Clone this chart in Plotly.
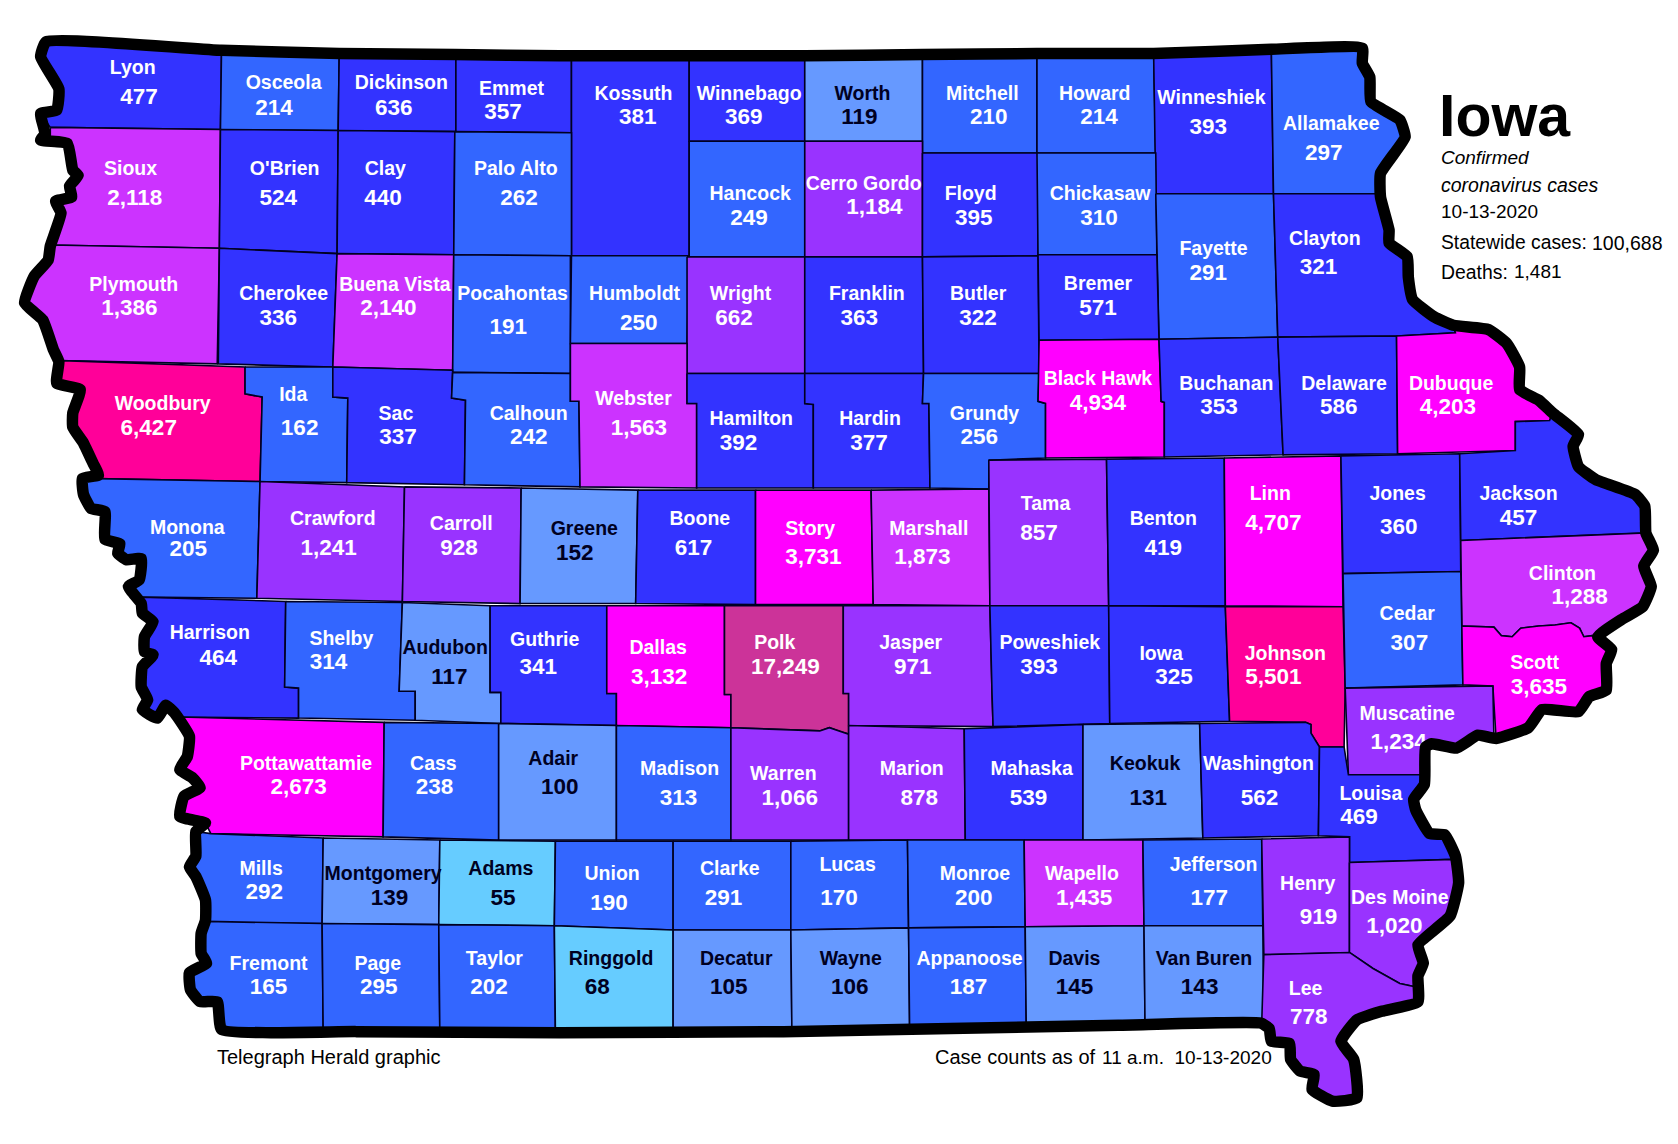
import plotly.graph_objects as go

# all positions are in the map's own units: 1568 wide, 1069 tall, y pointing down
MAP_WIDTH = 1568
MAP_HEIGHT = 1069

# "Des Moine" on purpose: the state border cuts the last letter off in the graphic
COUNTIES = [
    "Lyon", "Osceola", "Dickinson", "Emmet", "Kossuth", "Winnebago", "Worth", "Mitchell", "Howard", "Winneshiek", "Allamakee",
    "Sioux", "O'Brien", "Clay", "Palo Alto", "Hancock", "Cerro Gordo", "Floyd", "Chickasaw", "Fayette", "Clayton",
    "Plymouth", "Cherokee", "Buena Vista", "Pocahontas", "Humboldt", "Wright", "Franklin", "Butler", "Bremer",
    "Woodbury", "Ida", "Sac", "Calhoun", "Webster", "Hamilton", "Hardin", "Grundy", "Black Hawk", "Buchanan", "Delaware", "Dubuque",
    "Monona", "Crawford", "Carroll", "Greene", "Boone", "Story", "Marshall", "Tama", "Benton", "Linn", "Jones", "Jackson", "Clinton",
    "Harrison", "Shelby", "Audubon", "Guthrie", "Dallas", "Polk", "Jasper", "Poweshiek", "Iowa", "Johnson", "Cedar", "Scott", "Muscatine",
    "Pottawattamie", "Cass", "Adair", "Madison", "Warren", "Marion", "Mahaska", "Keokuk", "Washington", "Louisa",
    "Mills", "Montgomery", "Adams", "Union", "Clarke", "Lucas", "Monroe", "Wapello", "Jefferson", "Henry", "Des Moine",
    "Fremont", "Page", "Taylor", "Ringgold", "Decatur", "Wayne", "Appanoose", "Davis", "Van Buren", "Lee",
]

CASES = [
    477, 214, 636, 357, 381, 369, 119, 210, 214, 393, 297,
    2118, 524, 440, 262, 249, 1184, 395, 310, 291, 321,
    1386, 336, 2140, 191, 250, 662, 363, 322, 571,
    6427, 162, 337, 242, 1563, 392, 377, 256, 4934, 353, 586, 4203,
    205, 1241, 928, 152, 617, 3731, 1873, 857, 419, 4707, 360, 457, 1288,
    464, 314, 117, 341, 3132, 17249, 971, 393, 325, 5501, 307, 3635, 1234,
    2673, 238, 100, 313, 1066, 878, 539, 131, 562, 469,
    292, 139, 55, 190, 291, 170, 200, 1435, 177, 919, 1020,
    165, 295, 202, 68, 105, 106, 187, 145, 143, 778,
]

NAME_X = [
    124, 265, 375, 478, 592, 700, 806, 918, 1023, 1132, 1244,
    122, 266, 360, 482, 701, 807, 907, 1028, 1134, 1238,
    125, 265, 369, 479, 593, 692, 810, 914, 1026,
    152, 274, 370, 494, 592, 702, 813, 920, 1026, 1146, 1256, 1356,
    175, 311, 431, 546, 654, 757, 868, 977, 1087, 1187, 1306, 1419, 1460,
    196, 319, 416, 509, 615, 724, 851, 981, 1085, 1201, 1315, 1434, 1315,
    286, 405, 517, 635, 732, 852, 964, 1070, 1176, 1281,
    244, 358, 468, 572, 682, 792, 911, 1011, 1134, 1222, 1308,
    251, 353, 462, 571, 688, 795, 906, 1004, 1125, 1220,
]
NAME_Y = [
    65, 79, 79, 84, 89, 89, 89, 89, 89, 93, 117,
    159, 159, 159, 159, 182, 173, 182, 182, 234, 224,
    267, 276, 267, 276, 276, 276, 276, 276, 266,
    379, 370, 388, 388, 374, 393, 393, 388, 355, 360, 360, 360,
    494, 486, 491, 495, 486, 495, 495, 472, 486, 463, 463, 463, 537,
    593, 598, 607, 599, 607, 602, 602, 602, 612, 612, 575, 621, 668,
    715, 715, 710, 720, 724, 720, 720, 715, 715, 743,
    813, 818, 813, 818, 813, 809, 818, 818, 809, 827, 840,
    902, 902, 897, 897, 897, 897, 897, 897, 897, 925,
]
VALUE_X = [
    130, 256, 368, 470, 596, 695, 803, 924, 1027, 1129, 1237,
    126, 260, 358, 485, 700, 817, 910, 1027, 1129, 1232,
    121, 260, 363, 475, 597, 686, 803, 914, 1026,
    139, 280, 372, 494, 597, 690, 812, 915, 1026, 1139, 1251, 1353,
    176, 307, 429, 537, 648, 760, 862, 971, 1087, 1190, 1307, 1419, 1476,
    204, 307, 420, 503, 616, 734, 853, 971, 1097, 1190, 1317, 1438, 1307,
    279, 406, 523, 634, 738, 859, 961, 1073, 1177, 1270,
    247, 364, 470, 569, 676, 784, 910, 1013, 1130, 1232, 1303,
    251, 354, 457, 558, 681, 794, 905, 1004, 1121, 1223,
]
VALUE_Y = [
    92, 102, 102, 106, 111, 111, 111, 111, 111, 120, 144,
    186, 186, 186, 186, 205, 195, 205, 205, 256, 251,
    289, 298, 289, 307, 303, 298, 298, 298, 289,
    401, 401, 410, 410, 401, 415, 415, 410, 378, 382, 382, 382,
    514, 513, 513, 518, 513, 522, 522, 499, 513, 490, 494, 485, 559,
    616, 620, 634, 625, 634, 625, 625, 625, 634, 634, 602, 643, 695,
    737, 737, 737, 747, 747, 747, 747, 747, 747, 765,
    835, 840, 840, 845, 840, 840, 840, 840, 840, 858, 867,
    924, 924, 924, 924, 924, 924, 924, 924, 924, 952,
]

# county outlines, same order as COUNTIES
COUNTY_OUTLINES = [
    [(43, 39), (207, 47), (206, 121), (47, 119), (38, 106), (53, 103), (55, 83), (38, 53)],
    [(207, 47), (317, 50), (316, 122), (206, 121)],
    [(317, 50), (426, 51), (426, 123), (316, 122)],
    [(426, 51), (534, 52), (534, 124), (426, 123)],
    [(534, 52), (644, 52), (644, 239), (534, 239)],
    [(644, 52), (752, 52), (752, 132), (644, 132)],
    [(752, 52), (862, 51), (862, 132), (752, 132)],
    [(862, 51), (969, 50), (969, 143), (862, 143)],
    [(969, 50), (1078, 50), (1080, 143), (969, 143)],
    [(1078, 50), (1188, 46), (1190, 181), (1080, 181)],
    [(1188, 46), (1273, 45), (1273, 59), (1280, 72), (1281, 95), (1308, 112), (1313, 128), (1290, 162), (1290, 181), (1190, 181)],
    [(47, 119), (206, 121), (205, 232), (47, 229), (57, 199), (52, 188), (67, 184), (65, 174), (73, 164), (68, 159), (63, 134), (47, 131)],
    [(206, 121), (316, 122), (315, 237), (205, 232)],
    [(316, 122), (425, 123), (424, 238), (315, 237)],
    [(425, 123), (534, 124), (534, 239), (424, 238)],
    [(644, 132), (752, 132), (752, 240), (644, 240)],
    [(752, 132), (862, 132), (862, 240), (752, 240)],
    [(862, 143), (970, 143), (970, 239), (862, 240)],
    [(969, 143), (1080, 143), (1081, 238), (970, 239)],
    [(1080, 181), (1190, 181), (1194, 315), (1083, 317)],
    [(1190, 181), (1290, 181), (1290, 184), (1298, 215), (1298, 227), (1315, 240), (1316, 259), (1320, 280), (1340, 296), (1358, 304), (1360, 311), (1305, 314), (1194, 315)],
    [(47, 229), (205, 232), (203, 340), (58, 337), (50, 327), (40, 299), (23, 283), (32, 258), (45, 243)],
    [(205, 232), (315, 237), (311, 343), (204, 340)],
    [(315, 237), (424, 238), (423, 346), (311, 343)],
    [(424, 238), (533, 239), (533, 375), (541, 375), (541, 349), (423, 348)],
    [(534, 239), (644, 239), (642, 321), (533, 321)],
    [(642, 240), (752, 240), (752, 349), (642, 349)],
    [(752, 240), (862, 240), (863, 349), (752, 349)],
    [(862, 240), (970, 239), (971, 349), (863, 349)],
    [(970, 238), (1081, 238), (1083, 317), (971, 318)],
    [(58, 337), (229, 343), (229, 368), (245, 371), (243, 450), (77, 447), (92, 444), (87, 433), (78, 414), (68, 399), (68, 386), (75, 364), (53, 358), (55, 338)],
    [(229, 343), (311, 343), (311, 371), (325, 372), (324, 451), (243, 450), (245, 371), (229, 368)],
    [(311, 343), (423, 346), (422, 372), (435, 374), (434, 453), (324, 451), (325, 372), (311, 371)],
    [(423, 348), (533, 349), (533, 375), (541, 375), (542, 455), (434, 453), (435, 374), (422, 372)],
    [(533, 321), (642, 321), (642, 377), (651, 377), (651, 456), (542, 455), (541, 375), (533, 375)],
    [(642, 349), (752, 349), (752, 377), (760, 378), (760, 456), (651, 456), (651, 377), (642, 377)],
    [(752, 349), (863, 349), (862, 377), (868, 377), (869, 456), (760, 456), (760, 378), (752, 377)],
    [(863, 349), (971, 349), (970, 375), (977, 377), (977, 428), (924, 430), (924, 457), (869, 456), (868, 377), (862, 377)],
    [(971, 318), (1083, 317), (1085, 375), (1088, 376), (1088, 427), (977, 428), (977, 377), (970, 375)],
    [(1083, 317), (1194, 315), (1199, 425), (1088, 427), (1088, 376), (1085, 375)],
    [(1194, 315), (1305, 314), (1306, 424), (1199, 425)],
    [(1305, 314), (1360, 311), (1358, 304), (1391, 308), (1408, 321), (1420, 343), (1420, 364), (1438, 374), (1451, 386), (1448, 393), (1416, 394), (1416, 421), (1306, 424)],
    [(77, 447), (243, 450), (240, 559), (132, 558), (120, 548), (130, 542), (132, 522), (118, 523), (110, 517), (112, 508), (98, 504), (98, 478), (85, 475), (78, 462)],
    [(243, 450), (378, 455), (376, 562), (240, 559)],
    [(378, 455), (487, 456), (486, 564), (376, 562)],
    [(487, 456), (596, 458), (594, 564), (486, 564)],
    [(596, 458), (706, 458), (706, 565), (594, 564)],
    [(706, 458), (814, 458), (816, 565), (706, 565)],
    [(814, 458), (924, 457), (925, 566), (816, 565)],
    [(924, 430), (1034, 429), (1036, 566), (925, 566)],
    [(1034, 429), (1144, 428), (1145, 566), (1036, 566)],
    [(1144, 428), (1253, 426), (1255, 567), (1145, 566)],
    [(1253, 426), (1364, 424), (1365, 534), (1255, 536)],
    [(1364, 424), (1416, 421), (1416, 394), (1448, 393), (1451, 386), (1475, 406), (1470, 417), (1475, 436), (1491, 448), (1528, 462), (1537, 473), (1538, 498), (1365, 505)],
    [(1365, 505), (1538, 498), (1545, 514), (1536, 529), (1543, 548), (1535, 567), (1515, 579), (1493, 595), (1488, 594), (1480, 595), (1476, 587), (1468, 582), (1453, 584), (1438, 585), (1421, 587), (1413, 595), (1403, 594), (1396, 586), (1366, 585)],
    [(132, 558), (267, 562), (266, 642), (279, 643), (279, 671), (167, 670), (163, 666), (155, 659), (147, 671), (133, 663), (138, 654), (132, 642), (133, 623), (143, 612), (135, 609), (135, 595), (143, 581), (133, 573)],
    [(267, 562), (376, 563), (373, 646), (388, 646), (388, 673), (279, 671), (279, 643), (266, 642)],
    [(376, 563), (458, 566), (458, 647), (468, 647), (468, 676), (388, 673), (388, 646), (373, 646)],
    [(458, 566), (567, 566), (567, 648), (576, 648), (576, 678), (468, 676), (468, 647), (458, 647)],
    [(567, 566), (677, 566), (677, 649), (683, 649), (683, 680), (576, 678), (576, 648), (567, 648)],
    [(677, 566), (788, 566), (788, 648), (793, 648), (793, 686), (786, 684), (775, 680), (766, 683), (683, 680), (683, 649), (677, 649)],
    [(788, 566), (925, 566), (927, 648), (928, 679), (793, 678), (793, 648), (788, 648)],
    [(925, 566), (1036, 566), (1037, 676), (928, 679), (927, 648)],
    [(1036, 566), (1145, 567), (1149, 674), (1037, 676)],
    [(1145, 567), (1255, 567), (1257, 643), (1256, 698), (1233, 698), (1225, 685), (1225, 677), (1220, 675), (1149, 674)],
    [(1255, 536), (1365, 534), (1367, 640), (1257, 643)],
    [(1366, 585), (1396, 586), (1403, 594), (1413, 595), (1421, 587), (1438, 585), (1453, 584), (1468, 582), (1476, 587), (1480, 595), (1488, 594), (1493, 595), (1506, 607), (1501, 620), (1501, 645), (1485, 651), (1475, 665), (1441, 663), (1428, 680), (1398, 690), (1395, 641), (1367, 640)],
    [(1257, 643), (1395, 641), (1396, 690), (1381, 687), (1361, 699), (1338, 695), (1332, 698), (1332, 724), (1260, 724)],
    [(167, 670), (359, 675), (358, 782), (197, 779), (192, 769), (168, 763), (172, 744), (187, 736), (180, 727), (168, 719), (175, 707), (177, 688)],
    [(359, 675), (466, 676), (466, 785), (358, 782)],
    [(466, 676), (576, 678), (576, 785), (466, 785)],
    [(576, 678), (683, 680), (683, 785), (576, 785)],
    [(683, 680), (766, 683), (775, 680), (786, 684), (793, 686), (793, 785), (683, 785)],
    [(793, 678), (901, 681), (902, 785), (793, 785)],
    [(901, 681), (1012, 677), (1012, 785), (902, 785)],
    [(1012, 677), (1121, 676), (1124, 783), (1012, 785)],
    [(1121, 676), (1220, 675), (1225, 677), (1225, 685), (1233, 698), (1232, 781), (1124, 783)],
    [(1233, 698), (1256, 698), (1260, 724), (1332, 724), (1331, 733), (1321, 747), (1323, 757), (1336, 779), (1350, 780), (1358, 803), (1261, 806), (1261, 782), (1232, 781)],
    [(183, 777), (197, 779), (302, 783), (301, 863), (192, 862), (192, 841), (183, 819), (177, 810), (183, 800)],
    [(302, 783), (411, 785), (410, 864), (301, 863)],
    [(411, 785), (519, 786), (518, 865), (410, 864)],
    [(519, 786), (629, 786), (629, 869), (518, 865)],
    [(629, 786), (739, 786), (739, 869), (629, 869)],
    [(739, 786), (848, 785), (849, 867), (739, 869)],
    [(848, 785), (957, 785), (958, 866), (849, 867)],
    [(957, 785), (1068, 785), (1069, 865), (958, 866)],
    [(1068, 785), (1179, 784), (1180, 865), (1069, 865)],
    [(1179, 784), (1261, 782), (1261, 890), (1181, 892)],
    [(1261, 806), (1358, 803), (1363, 825), (1355, 856), (1325, 883), (1330, 900), (1325, 912), (1322, 922), (1308, 919), (1283, 905), (1261, 890)],
    [(192, 861), (301, 863), (302, 964), (207, 962), (203, 936), (187, 936), (178, 925), (177, 909), (193, 900), (188, 891), (188, 872)],
    [(301, 863), (410, 864), (411, 965), (302, 964)],
    [(410, 864), (518, 865), (519, 965), (411, 965)],
    [(518, 865), (629, 869), (629, 965), (519, 965)],
    [(629, 869), (739, 869), (740, 964), (629, 965)],
    [(739, 869), (849, 867), (850, 963), (740, 964)],
    [(849, 867), (958, 866), (959, 961), (850, 963)],
    [(958, 866), (1069, 865), (1070, 959), (959, 961)],
    [(1069, 865), (1180, 865), (1181, 956), (1070, 959)],
    [(1181, 892), (1261, 890), (1283, 905), (1308, 919), (1322, 922), (1325, 936), (1291, 945), (1268, 953), (1253, 973), (1265, 990), (1268, 1026), (1245, 1029), (1226, 1018), (1228, 1004), (1215, 1001), (1206, 990), (1205, 975), (1188, 973), (1186, 961), (1179, 956)],
]

STATE_BORDER_X = [
    43, 207, 317, 425, 523, 644, 752, 862, 969, 1078, 1188, 1273, 1273, 1280, 1281, 1308, 1313, 1290, 1290, 1298, 1298, 1315, 1316, 1320, 1340, 1358, 1391, 1408, 1420, 1420, 1438, 1451, 1475, 1470, 1475, 1491, 1528, 1537, 1538, 1545, 1536, 1543, 1535, 1515, 1493, 1506, 1501, 1501, 1485, 1475, 1441, 1428, 1398, 1381, 1361, 1338, 1332, 1331, 1321, 1323, 1336, 1350, 1360, 1363, 1355, 1325, 1330, 1325, 1325, 1291, 1268, 1253, 1265, 1268, 1245, 1226, 1228, 1215, 1206, 1205, 1188, 1186, 1178, 1045, 732, 523, 333, 207, 203, 187, 178, 177, 193, 188, 188, 192, 192, 183, 177, 183, 183, 192, 168, 172, 187, 180, 168, 175, 177, 163, 155, 147, 133, 138, 132, 133, 143, 135, 135, 143, 133, 132, 120, 130, 132, 118, 110, 112, 98, 98, 85, 78, 77, 92, 87, 78, 68, 68, 75, 53, 55, 50, 40, 23, 32, 45, 47, 57, 52, 67, 65, 73, 68, 63, 38, 42, 38, 53, 55, 38, 43,
]
STATE_BORDER_Y = [
    39, 47, 50, 51, 52, 52, 52, 51, 50, 50, 46, 45, 59, 72, 95, 112, 128, 162, 184, 215, 227, 240, 259, 280, 296, 304, 308, 321, 343, 364, 374, 386, 406, 417, 436, 448, 462, 473, 498, 514, 529, 548, 567, 579, 595, 607, 620, 645, 651, 665, 663, 680, 690, 687, 699, 695, 698, 733, 747, 757, 779, 780, 800, 825, 856, 883, 900, 912, 936, 945, 953, 973, 990, 1026, 1029, 1018, 1004, 1001, 990, 975, 973, 961, 956, 958, 964, 965, 964, 962, 936, 936, 925, 909, 900, 891, 872, 860, 841, 819, 810, 800, 777, 769, 763, 744, 736, 727, 719, 707, 688, 666, 659, 671, 663, 654, 642, 623, 612, 609, 595, 581, 573, 564, 548, 542, 522, 523, 517, 508, 504, 478, 475, 462, 447, 444, 433, 414, 399, 386, 364, 358, 338, 327, 299, 283, 258, 243, 230, 199, 188, 184, 174, 164, 159, 134, 131, 125, 106, 103, 83, 53, 39,
]

# colour classes: upper bound of cases and the fill for that class
CLASS_LIMITS = [100, 160, 320, 650, 1250, 2500, 5000, 10000, 100000]
CLASS_COLORS = ["#66CCFF", "#6699FF", "#3366FF", "#3333FF", "#9933FF", "#CC33FF", "#FF00FF", "#FF0099", "#CC3399"]

TITLE = "Iowa"
SUBTITLE_LINES = ["Confirmed", "coronavirus cases"]
REPORT_DATE = "10-13-2020"
STATEWIDE_CASES = "100,688"
DEATHS = "1,481"

SANS = "Liberation Sans"


def class_color(cases: int) -> str:
    for limit, color in zip(CLASS_LIMITS, CLASS_COLORS):
        if cases < limit:
            return color
    return CLASS_COLORS[-1]


def note(text: str, x: float, y: float, size: float) -> dict:
    return {
        "text": text,
        "x": x,
        "y": y,
        "xanchor": "left",
        "yanchor": "middle",
        "showarrow": False,
        "font": {"family": SANS, "size": size, "color": "#000000"},
    }


fig = go.Figure()

for name, cases, outline in zip(COUNTIES, CASES, COUNTY_OUTLINES):
    xs, ys = zip(*outline)
    fig.add_trace(
        go.Scatter(
            x=list(xs) + [xs[0]],
            y=list(ys) + [ys[0]],
            mode="lines",
            fill="toself",
            fillcolor=class_color(cases),
            line={"color": "#000022", "width": 1.6},
            name=name,
            hoverinfo="name",
        )
    )

text_colors = ["#000022" if cases < 160 else "#FFFFFF" for cases in CASES]

fig.add_trace(
    go.Scatter(
        x=NAME_X,
        y=NAME_Y,
        mode="text",
        text=COUNTIES,
        textposition="middle center",
        textfont={"family": SANS, "size": 19.5, "color": text_colors, "weight": "bold"},
        hoverinfo="skip",
    )
)
fig.add_trace(
    go.Scatter(
        x=VALUE_X,
        y=VALUE_Y,
        mode="text",
        text=[f"{cases:,}" for cases in CASES],
        textposition="middle center",
        textfont={"family": SANS, "size": 22.5, "color": text_colors, "weight": "bold"},
        hoverinfo="skip",
    )
)

# the border goes over the labels, it clips Muscatine's count
fig.add_trace(
    go.Scatter(
        x=STATE_BORDER_X,
        y=STATE_BORDER_Y,
        mode="lines",
        line={"color": "#000000", "width": 11.5, "shape": "spline", "smoothing": 0.4},
        hoverinfo="skip",
    )
)

fig.update_layout(
    width=1678,
    height=1144,
    margin={"l": 0, "r": 0, "t": 0, "b": 0},
    showlegend=False,
    plot_bgcolor="#FFFFFF",
    paper_bgcolor="#FFFFFF",
    xaxis={"range": [0, MAP_WIDTH], "visible": False, "fixedrange": True},
    yaxis={"range": [MAP_HEIGHT, 0], "visible": False, "fixedrange": True},
    annotations=[
        note(f"<b>{TITLE}</b>", 1343, 108, 59),
        note(f"<i>{SUBTITLE_LINES[0]}</i>", 1345, 147, 19),
        note(f"<i>{SUBTITLE_LINES[1]}</i>", 1345, 173, 19.5),
        note(REPORT_DATE, 1345, 198, 19),
        note("Statewide cases:", 1345, 227, 19.3),
        note(STATEWIDE_CASES, 1486, 227, 19.5),
        note("Deaths:", 1345, 254, 19.4),
        note(DEATHS, 1413, 254, 19),
        note("Telegraph Herald graphic", 201, 988, 20),
        note("Case counts as of", 872, 988, 20),
        note(f"11 a.m.  {REPORT_DATE}", 1028, 988, 19),
    ],
)

fig.write_html(
    "out.html",
    config={"displayModeBar": False},
    post_script="document.body.style.margin = '0';",
)
